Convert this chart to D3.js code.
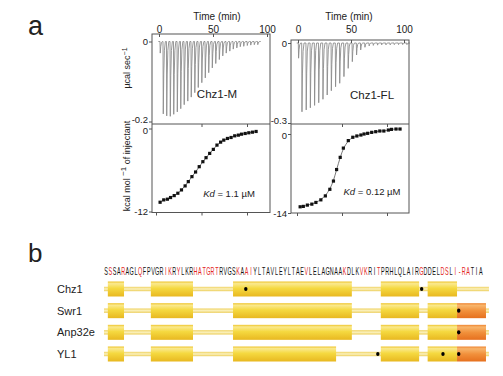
<!DOCTYPE html>
<html>
<head>
<meta charset="utf-8">
<script src="https://cdn.jsdelivr.net/npm/d3@7"></script>
<style>
  body { margin: 0; background: #fff; }
  svg { display: block; font-family: "Liberation Sans", Arial, sans-serif; }
</style>
</head>
<body>
<div id="fig"></div>
<script>
// ---------------------------  DATA  ---------------------------
const timeTicks = [0, 50, 100];
const molarTicks = [0, 1, 2];

// Chz1-M : injection times (min), peak heat rate (µcal/s), molar ratio, integrated heat (kcal/mol)
const injTimeM = [0.9, 3.7, 6.9, 10.2, 13.4, 16.7, 19.9, 23.1, 26.4, 29.6, 32.9, 36.1, 39.4, 42.6, 45.8,
                  49.1, 52.3, 55.6, 58.8, 62.0, 65.3, 68.5, 71.8, 75.0, 78.2, 81.5, 84.7, 88.0, 91.2];
const peakM = [-0.029, -0.181, -0.186, -0.187, -0.182, -0.176, -0.168, -0.158, -0.149, -0.139, -0.128,
               -0.115, -0.103, -0.091, -0.078, -0.066, -0.055, -0.045, -0.036, -0.029, -0.024,
               -0.019, -0.016, -0.013, -0.012, -0.010, -0.009, -0.008, -0.008];
const molarM = [0.09, 0.17, 0.25, 0.32, 0.40, 0.48, 0.56, 0.64, 0.71, 0.79, 0.87, 0.95, 1.03, 1.10,
                1.18, 1.26, 1.34, 1.42, 1.49, 1.57, 1.65, 1.73, 1.81, 1.88, 1.96, 2.04, 2.12, 2.20];
const heatM = [-10.66, -10.32, -10.22, -9.98, -9.70, -9.36, -8.88, -8.30, -7.68, -6.96, -6.29, -5.52,
               -4.80, -4.22, -3.60, -3.02, -2.40, -1.97, -1.68, -1.44, -1.30, -1.06, -0.96, -0.82,
               -0.72, -0.62, -0.53, -0.43];

// Chz1-FL
const injTimeFL = [0.3, 3.5, 7.5, 11.4, 15.4, 19.3, 23.3, 27.3, 31.2, 35.2, 39.1, 43.1, 47.1, 51.0,
                   55.0, 58.9, 62.9, 66.9, 70.8, 74.8, 78.7, 82.7, 86.7, 90.6, 94.6, 98.5, 102.5];
const peakFL = [-0.057, -0.258, -0.251, -0.243, -0.234, -0.224, -0.211, -0.195, -0.179, -0.164, -0.151,
                -0.126, -0.095, -0.070, -0.045, -0.026, -0.016, -0.011, -0.009, -0.008, -0.007,
                -0.007, -0.007, -0.006, -0.006, -0.006, -0.006];
const molarFL = [0.07, 0.14, 0.23, 0.33, 0.42, 0.53, 0.63, 0.73, 0.81, 0.88, 0.96, 1.03, 1.14,
                 1.24, 1.33, 1.42, 1.49, 1.57, 1.66, 1.75, 1.84, 1.93, 2.03, 2.10, 2.20, 2.29];
const heatFL = [-12.90, -12.83, -12.60, -12.43, -12.13, -11.67, -10.97, -9.80, -8.34, -6.30, -4.14,
                -2.50, -1.17, -0.58, -0.35, -0.18, 0.00, 0.12, 0.29, 0.41, 0.53, 0.53, 0.70, 0.82,
                0.88, 0.88];

// panel b : sequence, red residues (0-based index), helices in residue units
const seq = "SSSARAGLQFPVGRIKRYLKRHATGRTRVGSKAAIYLTAVLEYLTAEVLELAGNAAKDLKVKRITPRHLQLAIRGDDELDSLI-RATIA";
const redResidues = [1, 4, 8, 14, 15, 17, 21, 22, 23, 24, 25, 26, 31, 33, 34, 47, 56, 60, 61, 64,
                     74, 79, 80, 82, 83, 84, 85];
const proteins = ["Chz1", "Swr1", "Anp32e", "YL1"];
const trackEnd = 90.4;
const helicesChz1   = [[0.9, 4.7], [11.0, 20.9], [30.3, 58.2], [65.0, 74.0], [76.0, 82.9]];
const helicesSwr1   = [[0.9, 4.7], [11.0, 20.9], [30.3, 58.2], [65.0, 74.0], [76.0, 82.9]];
const helicesAnp32e = [[0.9, 4.7], [11.0, 20.9], [30.3, 58.2], [65.0, 74.0], [76.0, 82.9]];
const helicesYL1    = [[0.9, 4.7], [11.0, 20.9], [30.3, 54.5], [65.0, 74.0], [76.0, 82.9]];
const tails = { Chz1: null, Swr1: [82.9, 89.7], Anp32e: [82.9, 89.7], YL1: [82.9, 89.7] };
const dotsChz1 = [33.3, 74.6];
const dotsSwr1 = [83.3];
const dotsAnp32e = [83.3];
const dotsYL1 = [64.3, 79.6, 83.3];


// ---------------------------  SVG  ---------------------------
const svg = d3.select("#fig").append("svg")
    .attr("width", 503)
    .attr("height", 376);

const defs = svg.append("defs");
function vGrad(id, stops) {
    const g = defs.append("linearGradient").attr("id", id)
        .attr("x1", 0).attr("y1", 0).attr("x2", 0).attr("y2", 1);
    stops.forEach(s => g.append("stop").attr("offset", s[0]).attr("stop-color", s[1]));
}
vGrad("helixGrad", [[0, "#eec42c"], [0.14, "#fae98e"], [0.45, "#f5d940"], [1, "#e8b820"]]);
vGrad("tailGrad",  [[0, "#ee8430"], [0.15, "#f8b56c"], [0.5, "#f1913c"], [1, "#e6701e"]]);
vGrad("trackGrad", [[0, "#efd262"], [0.5, "#fbf1bd"], [1, "#eccd58"]]);

const frameColor = "#555";
const textColor = "#222";


// ---------------------------  PANEL a  ---------------------------
svg.append("text").attr("x", 28).attr("y", 35)
    .attr("font-size", 27).attr("fill", textColor).text("a");

// rotated y titles
svg.append("text")
    .attr("transform", "translate(130,68) rotate(-90)")
    .attr("text-anchor", "middle").attr("font-size", 9).attr("fill", textColor)
    .call(t => {
        t.append("tspan").text("µcal sec");
        t.append("tspan").attr("baseline-shift", "super").attr("font-size", 7).text("−1");
    });
svg.append("text")
    .attr("transform", "translate(130,166) rotate(-90)")
    .attr("text-anchor", "middle").attr("font-size", 9).attr("fill", textColor)
    .call(t => {
        t.append("tspan").text("kcal mol ");
        t.append("tspan").attr("baseline-shift", "super").attr("font-size", 8).text("−1");
        t.append("tspan").text(" of injectant");
    });

const panels = [
    { name: "Chz1-M", kd: " = 1.1 µM", t: injTimeM, p: peakM, m: molarM, h: heatM,
      x0: 152, x1: 270, top: 34, mid: 124, bot: 212.5,
      timeR: [159, 267], rateD: [0, -0.2], rateR: [41.5, 121.5],
      molarR: [156, 247], heatD: [0, -12], heatR: [128.5, 211.5],
      nameXY: [217, 98], kdXY: [229, 197], titleX: 217 },
    { name: "Chz1-FL", kd: " = 0.12 µM", t: injTimeFL, p: peakFL, m: molarFL, h: heatFL,
      x0: 291, x1: 409, top: 40, mid: 124, bot: 213,
      timeR: [298, 404], rateD: [0, -0.3], rateR: [43, 123],
      molarR: [297, 387], heatD: [0, -14], heatR: [134, 213],
      nameXY: [372, 99], kdXY: [372, 195], titleX: 349 }
];

panels.forEach(P => {
    const g = svg.append("g");

    const x = d3.scaleLinear().domain([0, 100]).range(P.timeR);
    const yRate = d3.scaleLinear().domain(P.rateD).range(P.rateR);
    const xm = d3.scaleLinear().domain([0, 2]).range(P.molarR);
    const yHeat = d3.scaleLinear().domain(P.heatD).range(P.heatR);

    // raw thermogram: one continuous trace with a spike per injection
    const pts = [[P.t[0] - 1.5, 0]];
    P.t.forEach((t, i) => {
        const p = P.p[i];
        pts.push([t, 0], [t + 0.25, p], [t + 0.7, p * 0.45], [t + 1.3, p * 0.12], [t + 2.2, 0]);
    });
    pts.push([P.t[P.t.length - 1] + 3, 0]);

    g.append("path")
        .attr("d", d3.line().x(d => x(d[0])).y(d => yRate(d[1]))(pts))
        .attr("fill", "none").attr("stroke", "#8c8c8c").attr("stroke-width", 0.9);

    // integrated heats + fit
    const iso = P.m.map((m, i) => [m, P.h[i]]);
    g.append("path")
        .attr("d", d3.line().curve(d3.curveBasis).x(d => xm(d[0])).y(d => yHeat(d[1]))(iso))
        .attr("fill", "none").attr("stroke", "#555").attr("stroke-width", 0.8);
    g.selectAll("rect.pt").data(iso).join("rect").attr("class", "pt")
        .attr("x", d => xm(d[0]) - 1.6).attr("y", d => yHeat(d[1]) - 1.6)
        .attr("width", 3.2).attr("height", 3.2).attr("fill", "#111");

    // frame
    g.append("rect").attr("x", P.x0).attr("y", P.top)
        .attr("width", P.x1 - P.x0).attr("height", P.bot - P.top)
        .attr("fill", "none").attr("stroke", frameColor).attr("stroke-width", 1);
    g.append("line").attr("x1", P.x0).attr("x2", P.x1).attr("y1", P.mid).attr("y2", P.mid)
        .attr("stroke", frameColor).attr("stroke-width", 1);

    // axes
    const styleAxis = sel => {
        sel.select(".domain").remove();
        sel.selectAll("line").attr("stroke", frameColor);
        sel.selectAll("text").attr("fill", textColor).attr("font-family", null);
    };
    g.append("g").attr("transform", `translate(0,${P.top})`)
        .call(d3.axisTop(x).tickValues(timeTicks).tickSize(-3).tickPadding(P.top - 33))
        .attr("font-size", 10).call(styleAxis);
    // the two left-axis labels that meet at the divider are nudged apart a little
    g.append("g").attr("transform", `translate(${P.x0},0)`)
        .call(d3.axisLeft(yRate).tickValues(P.rateD).tickSize(3).tickPadding(1).tickFormat(d => String(d)))
        .attr("font-size", 9.5).call(styleAxis)
        .selectAll("text").attr("dy", d => d === 0 ? "0.32em" : "0.1em");
    g.append("g").attr("transform", `translate(${P.x0},0)`)
        .call(d3.axisLeft(yHeat).tickValues(P.heatD).tickSize(3).tickPadding(1).tickFormat(d => String(d)))
        .attr("font-size", 9.5).call(styleAxis)
        .selectAll("text").attr("dy", d => d === 0 ? "0.5em" : "0.32em");
    g.append("g").attr("transform", `translate(0,${P.bot})`)
        .call(d3.axisBottom(xm).tickValues(molarTicks).tickSize(3).tickFormat(""))
        .call(styleAxis);
    g.append("g").attr("transform", `translate(0,${P.mid})`)
        .call(d3.axisBottom(xm).tickValues(molarTicks.slice(1)).tickSize(3).tickFormat(""))
        .call(styleAxis);

    // titles
    g.append("text").attr("x", P.titleX).attr("y", 19.5).attr("text-anchor", "middle")
        .attr("font-size", 10).attr("fill", textColor).text("Time (min)");
    g.append("text").attr("x", P.nameXY[0]).attr("y", P.nameXY[1]).attr("text-anchor", "middle")
        .attr("font-size", 11.5).attr("fill", textColor).text(P.name);
    g.append("text").attr("x", P.kdXY[0]).attr("y", P.kdXY[1]).attr("text-anchor", "middle")
        .attr("font-size", 9.5).attr("fill", textColor)
        .call(t => {
            t.append("tspan").attr("font-style", "italic").text("Kd");
            t.append("tspan").text(P.kd);
        });
});


// ---------------------------  PANEL b  ---------------------------
svg.append("text").attr("x", 28).attr("y", 262)
    .attr("font-size", 26).attr("fill", textColor).text("b");

const rx = d3.scaleLinear().domain([0, seq.length]).range([104, 483]);
const ry = d3.scalePoint().domain(proteins).range([289, 354]);

// sequence: one condensed glyph per residue, centred on its residue slot
svg.append("g").selectAll("text").data(seq.split("")).join("text")
    .attr("transform", (c, i) => `translate(${rx(i + 0.5)},275) scale(0.52,1)`)
    .attr("text-anchor", "middle")
    .attr("font-size", 10.5)
    .attr("fill", (c, i) => redResidues.includes(i) ? "#e3241c" : "#111")
    .text(c => c);

const rows = [
    { name: "Chz1",   helices: helicesChz1,   dots: dotsChz1 },
    { name: "Swr1",   helices: helicesSwr1,   dots: dotsSwr1 },
    { name: "Anp32e", helices: helicesAnp32e, dots: dotsAnp32e },
    { name: "YL1",    helices: helicesYL1,    dots: dotsYL1 }
];

rows.forEach(r => {
    const cy = ry(r.name);
    const g = svg.append("g");

    g.append("text").attr("x", 57).attr("y", cy + 4)
        .attr("font-size", 11).attr("fill", textColor).text(r.name);

    g.append("rect")
        .attr("x", rx(0)).attr("y", cy - 2.2)
        .attr("width", rx(trackEnd) - rx(0)).attr("height", 4.4)
        .attr("fill", "url(#trackGrad)");

    g.selectAll("rect.helix").data(r.helices).join("rect").attr("class", "helix")
        .attr("x", d => rx(d[0])).attr("y", cy - 7.5)
        .attr("width", d => rx(d[1]) - rx(d[0])).attr("height", 15)
        .attr("fill", "url(#helixGrad)");

    const tail = tails[r.name];
    if (tail) {
        g.append("rect")
            .attr("x", rx(tail[0])).attr("y", cy - 7.5)
            .attr("width", rx(tail[1]) - rx(tail[0])).attr("height", 15)
            .attr("fill", "url(#tailGrad)");
    }

    g.selectAll("ellipse").data(r.dots).join("ellipse")
        .attr("cx", d => rx(d)).attr("cy", cy)
        .attr("rx", 1.7).attr("ry", 2.1).attr("fill", "#000");
});
</script>
</body>
</html>
